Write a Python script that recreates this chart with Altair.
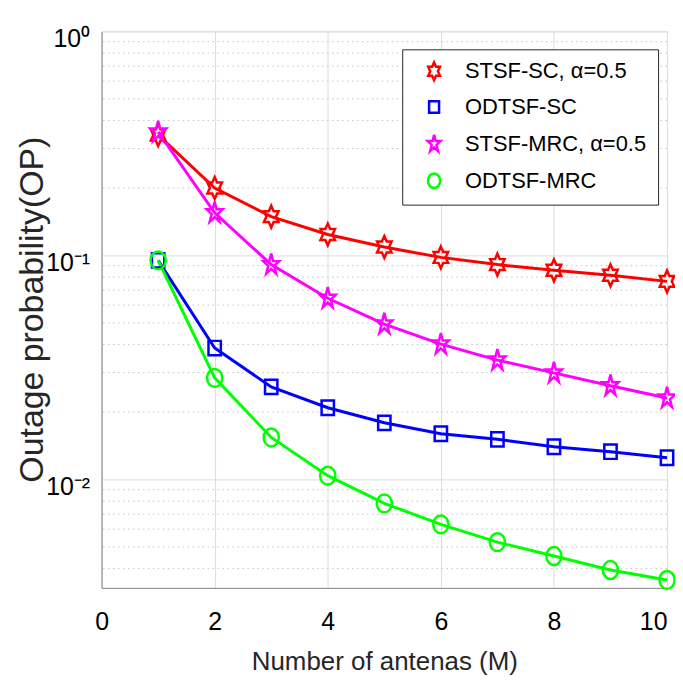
import altair as alt
import pandas as pd

# ---- data ----
antennas = [1, 2, 3, 4, 5, 6, 7, 8, 9, 10]
series_names = ["STSF-SC, α=0.5", "ODTSF-SC", "STSF-MRC, α=0.5", "ODTSF-MRC"]
stsf_sc = [0.345, 0.200, 0.149, 0.124, 0.109, 0.098, 0.091, 0.0858, 0.0815, 0.0766]
odtsf_sc = [0.095, 0.0386, 0.0259, 0.0209, 0.0179, 0.0160, 0.0151, 0.0140, 0.0133, 0.0125]
stsf_mrc = [0.356, 0.155, 0.091, 0.0644, 0.0494, 0.0402, 0.0341, 0.0299, 0.0262, 0.0231]
odtsf_mrc = [0.095, 0.0284, 0.0154, 0.0104, 0.00782, 0.0063, 0.00525, 0.00455, 0.00394, 0.00356]
x_ticks = [0, 2, 4, 6, 8, 10]
y_major = [0.01, 0.1, 1]
y_minor = [0.004, 0.005, 0.006, 0.007, 0.008, 0.009,
           0.02, 0.03, 0.04, 0.05, 0.06, 0.07, 0.08, 0.09,
           0.2, 0.3, 0.4, 0.5, 0.6, 0.7, 0.8, 0.9]

colors = ["#ff0000", "#0000ff", "#ff00ff", "#00ff00"]

# marker outlines (slightly taller than wide, like the reference)
hexagram = ("M0,-1.1 L0.24,-0.55 L0.73,-0.55 L0.48,0 L0.73,0.55 L0.24,0.55 "
            "L0,1.1 L-0.24,0.55 L-0.73,0.55 L-0.48,0 L-0.73,-0.55 L-0.24,-0.55 Z")
pentagram = ("M0,-1.12 L0.19,-0.35 L0.8,-0.35 L0.3,0.13 L0.49,0.9 L0,0.43 "
             "L-0.49,0.9 L-0.3,0.13 L-0.8,-0.35 L-0.19,-0.35 Z")
square = "M-0.62,-0.72 L0.62,-0.72 L0.62,0.72 L-0.62,0.72 Z"
ellipse = "M0.76,0 A0.76,0.9 0 1,1 -0.76,0 A0.76,0.9 0 1,1 0.76,0 Z"
shapes = [hexagram, square, pentagram, ellipse]

rows = []
for name, vals in zip(series_names, [stsf_sc, odtsf_sc, stsf_mrc, odtsf_mrc]):
    for m, v in zip(antennas, vals):
        rows.append({"M": m, "OP": v, "series": name})
df = pd.DataFrame(rows)
minor_df = pd.DataFrame({"OP": y_minor})

FONT = "Liberation Sans, Arial, Helvetica, sans-serif"

yscale = alt.Scale(type="log", domain=[0.00328, 1], nice=False)
xscale = alt.Scale(domain=[0, 10], nice=False)

yaxis = alt.Axis(
    values=y_major,
    labelExpr="datum.value == 1 ? '10⁰' : (datum.value > 0.05 ? '10⁻¹' : '10⁻²')",
    title="Outage probability(OP)",
    titleFontSize=34,
    titleFontWeight="normal",
    titleColor="#262626",
    titleX=-69,
    titleY=279,
    titleAngle=270,
    titleAlign="center",
    titleBaseline="middle",
    labelFontSize=25,
    labelPadding=12,
    labelOffset=7,
    ticks=False,
    grid=True,
    gridColor="#dcdcdc",
)
xaxis = alt.Axis(
    values=x_ticks,
    labelAlign={"condition": {"test": "datum.value == 10", "value": "right"}, "value": "center"},
    title="Number of antenas (M)",
    titleFontSize=26,
    titleFontWeight="normal",
    titleColor="#262626",
    titleX=284,
    titleY=74,
    titleAlign="center",
    titleBaseline="middle",
    labelFontSize=25,
    labelPadding=22,
    labelBaseline="top",
    ticks=False,
    grid=True,
    gridColor="#dcdcdc",
    labelFlush=False,
)

legend = alt.Legend(
    title=None,
    orient="none",
    legendX=302,
    legendY=18,
    labelFontSize=22,
    labelFont=FONT,
    labelColor="#000000",
    symbolSize=260,
    symbolStrokeWidth=2.5,
    symbolOffset=10,
    labelOffset=20,
    rowPadding=11,
    padding=11,
    strokeColor="#262626",
    fillColor="#ffffff",
    labelLimit=400,
)

color = alt.Color("series:N", scale=alt.Scale(domain=series_names, range=colors), legend=legend)
shape = alt.Shape("series:N", scale=alt.Scale(domain=series_names, range=shapes), legend=legend)

minor = alt.Chart(minor_df).mark_rule(strokeDash=[1.5, 3.5], color="#c4c4c4", strokeWidth=1).encode(
    y=alt.Y("OP:Q", scale=yscale, axis=yaxis)
)

lines = alt.Chart(df).mark_line(strokeWidth=3).encode(
    x=alt.X("M:Q", scale=xscale, axis=xaxis),
    y=alt.Y("OP:Q", scale=yscale, axis=yaxis),
    color=color,
)

points = alt.Chart(df).mark_point(filled=False, strokeWidth=2.5, size=400, opacity=1).encode(
    x=alt.X("M:Q", scale=xscale, axis=xaxis),
    y=alt.Y("OP:Q", scale=yscale, axis=yaxis),
    color=color,
    shape=shape,
)

chart = alt.layer(minor, lines, points).properties(
    width=568,
    height=559,
    autosize=alt.AutoSizeParams(type="none"),
    padding={"left": 94, "top": 22, "right": 8, "bottom": 92},
).configure_axis(
    labelFont=FONT,
    titleFont=FONT,
    labelColor="#262626",
    domainColor="#262626",
    domainWidth=1,
).configure_view(
    stroke="#262626",
    strokeWidth=1,
).configure(background="white")

chart.save("out.html", embed_options={"renderer": "svg", "actions": False})
